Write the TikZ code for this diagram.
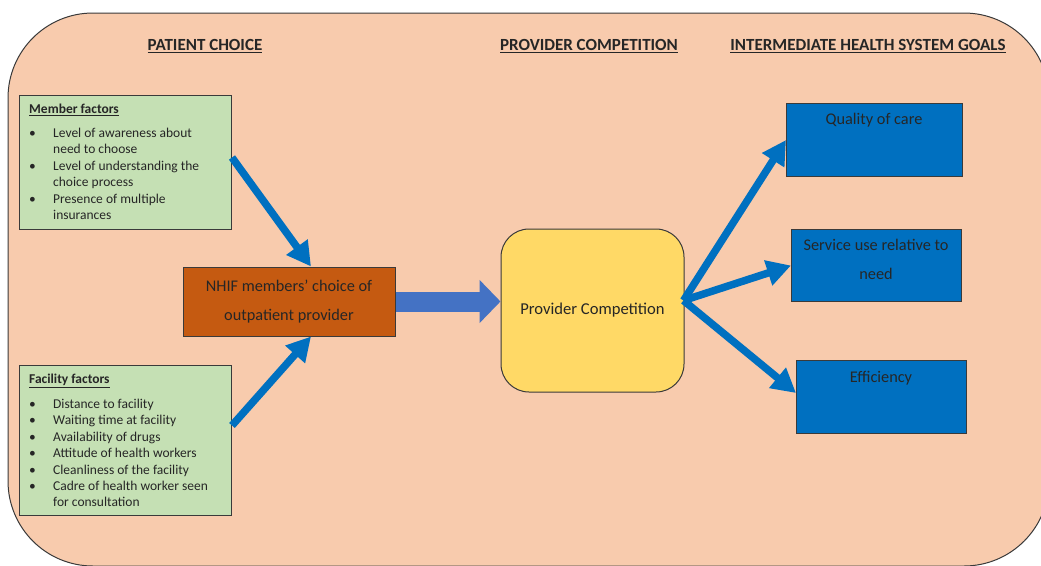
\documentclass[tikz,border=0pt]{standalone}
\usepackage{fontspec}
\setmainfont{Carlito}
\usetikzlibrary{arrows.meta,calc}
\definecolor{peach}{HTML}{F8CBAD}
\definecolor{lgreen}{HTML}{C5E0B4}
\definecolor{rust}{HTML}{C55A11}
\definecolor{gold}{HTML}{FFD966}
\definecolor{dblue}{HTML}{0070C0}
\definecolor{mblue}{HTML}{4472C4}
\definecolor{ink}{HTML}{262626}
\definecolor{edge}{HTML}{3A3A3A}
\tikzset{
  box/.style={draw=edge, line width=1pt, rectangle, inner sep=0pt},
  heading/.style={font=\fontsize{17}{20}\selectfont\bfseries, text=ink, anchor=base},
  listtxt/.style={font=\fontsize{13.5}{16.4}\selectfont, text=ink, anchor=base west, inner sep=0pt},
  goaltxt/.style={font=\fontsize{16.3}{29}\selectfont, text=ink, anchor=base, align=center, inner sep=0pt},
  conn/.style={draw=dblue, line width=7.5pt, -{Triangle[length=24pt,width=25pt]}},
  fatarrow/.style={draw=mblue, line width=20pt, -{Triangle[length=21pt,width=42pt]}}
}
\begin{document}
\begin{tikzpicture}[x=1pt,y=-1pt]
\useasboundingbox (0,0) rectangle (1041,565);
\begin{scope}
  \clip (0,0) rectangle (1041,565);
  \draw[fill=peach, draw=edge, line width=1pt, rounded corners=85pt] (8,13) rectangle (1049,566);
\end{scope}

% headings
\node[heading] (h1) at (205,50.5) {\underline{PATIENT CHOICE}};
\node[heading] (h2) at (589,50.5) {\underline{PROVIDER COMPETITION}};
\node[heading] (h3) at (868,50.5) {\underline{INTERMEDIATE HEALTH SYSTEM GOALS}};

% member factors
\node[box, fill=lgreen, minimum width=212pt, minimum height=134pt, anchor=north west] (mem) at (19,95) {};
\node[listtxt] (memt) at (29,113.5) {\textbf{\underline{Member factors}}};
\node[listtxt] (meml) at (29,137.5) {\begin{tabular}[t]{@{}p{24pt}@{}l@{}}
\textbullet & Level of awareness about\\
 & need to choose\\
\textbullet & Level of understanding the\\
 & choice process\\
\textbullet & Presence of multiple\\
 & insurances
\end{tabular}};

% facility factors
\node[box, fill=lgreen, minimum width=212pt, minimum height=150pt, anchor=north west] (fac) at (19,365) {};
\node[listtxt] (fact) at (29,383.5) {\textbf{\underline{Facility factors}}};
\node[listtxt] (facl) at (29,408.5) {\begin{tabular}[t]{@{}p{24pt}@{}l@{}}
\textbullet & Distance to facility\\
\textbullet & Waiting time at facility\\
\textbullet & Availability of drugs\\
\textbullet & Attitude of health workers\\
\textbullet & Cleanliness of the facility\\
\textbullet & Cadre of health worker seen\\
 & for consultation
\end{tabular}};

% NHIF
\node[box, fill=rust, minimum width=212pt, minimum height=69pt, align=center,
      font=\fontsize{16.3}{29}\selectfont, text=ink] (nhif) at (289,301.5)
      {NHIF members’ choice of\\outpatient provider};

% provider competition
\node[box, fill=gold, rounded corners=28pt, minimum width=183pt, minimum height=163pt,
      font=\fontsize{16.6}{20}\selectfont, text=ink] (prov) at (592.5,310.5) {Provider Competition};

% goals
\node[box, fill=dblue, minimum width=176pt, minimum height=73pt, anchor=north west] (q) at (786,103) {};
\node[goaltxt] (qt) at (874,124.5) {Quality of care};
\node[box, fill=dblue, minimum width=170pt, minimum height=72pt, anchor=north west] (s) at (791,229) {};
\node[goaltxt] (st) at (876,279.5) {Service use relative to\\need};
\node[box, fill=dblue, minimum width=170pt, minimum height=73pt, anchor=north west] (e) at (796,360) {};
\node[goaltxt] (et) at (881,382.5) {Efficiency};

% connectors
\draw[conn] ([yshift=5pt]mem.east) -- ([xshift=22pt]nhif.north);
\draw[conn] ([yshift=15pt]fac.east) -- ([xshift=22pt]nhif.south);
\draw[fatarrow] (nhif.east) -- (nhif.east -| prov.west);
\draw[conn] ([yshift=10pt,xshift=-1pt]prov.east) -- (q.west);
\draw[conn] ([yshift=10pt,xshift=-1pt]prov.east) -- (s.west);
\draw[conn] ([yshift=10pt,xshift=-1pt]prov.east) -- ([yshift=4pt]e.west);
\end{tikzpicture}
\end{document}
